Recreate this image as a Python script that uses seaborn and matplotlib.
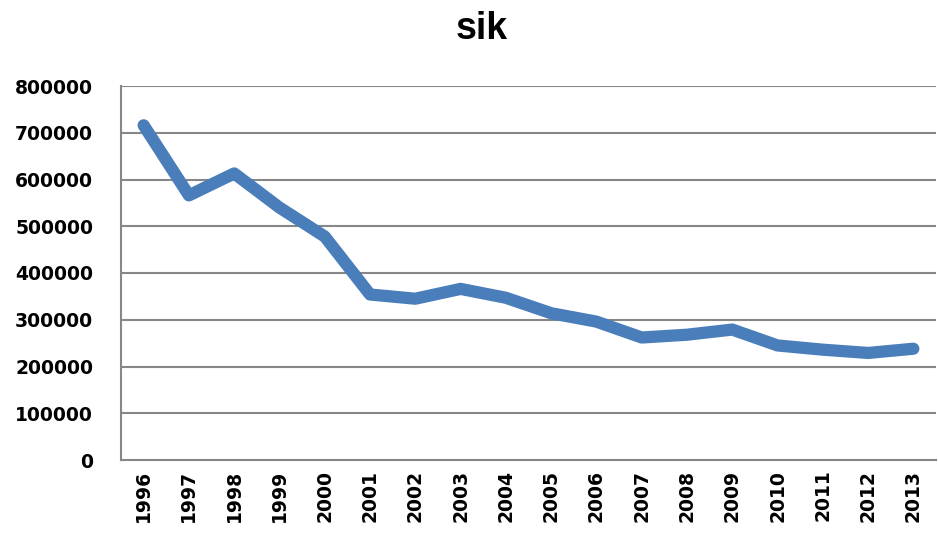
import numpy as np
import pandas as pd
import matplotlib
matplotlib.use("Agg")
import matplotlib.pyplot as plt
import seaborn as sns

# values
years = ["1996", "1997", "1998", "1999", "2000", "2001", "2002", "2003", "2004",
         "2005", "2006", "2007", "2008", "2009", "2010", "2011", "2012", "2013"]
values = [716000, 566000, 613000, 540000, 478000, 354000, 345000, 366000, 347000,
          314000, 296000, 262000, 268000, 279000, 245000, 236000, 229000, 238000]
y_ticks = [0, 100000, 200000, 300000, 400000, 500000, 600000, 700000, 800000]
title = "sik"

sns.set_style("white")
plt.rcParams["font.family"] = ["DejaVu Sans"]
plt.rcParams["text.color"] = "black"
plt.rcParams["xtick.labelcolor"] = "black"
plt.rcParams["ytick.labelcolor"] = "black"

df = pd.DataFrame({"year": years, "value": values})

fig = plt.figure(figsize=(9.38, 5.34), dpi=100)
ax = fig.add_axes([121 / 938, 74 / 534, 815 / 938, 374 / 534])

grid_col = "#878787"
for t in y_ticks[1:]:
    ax.axhline(t, color=grid_col, lw=1.5, zorder=0)

sns.lineplot(data=df, x="year", y="value", sort=False, ax=ax,
             color="#4A7EBB", lw=8.8, solid_capstyle="round",
             solid_joinstyle="round", zorder=3)

ax.set_xlim(-0.5, len(years) - 0.5)
ax.set_ylim(0, 800000)
ax.set_yticks(y_ticks)
ax.set_yticklabels([str(t) for t in y_ticks], fontsize=13.5, fontweight="bold")
ax.set_xticks(range(len(years)))
ax.set_xticklabels(years, rotation=90, fontsize=13.5, fontweight="bold")
ax.set_xticks(np.arange(-0.5, len(years)), minor=True)
ax.tick_params(axis="x", which="major", length=0, pad=7)
ax.tick_params(axis="x", which="minor", length=6, width=1.5, color=grid_col, direction="out")
ax.tick_params(axis="y", length=6, width=1.5, color=grid_col, direction="out", pad=14)
ax.set_xlabel("")
ax.set_ylabel("")

for s in ["top", "right"]:
    ax.spines[s].set_visible(False)
for s in ["left", "bottom"]:
    ax.spines[s].set_color(grid_col)
    ax.spines[s].set_linewidth(1.5)

fig.text(482 / 938, 1 - 39 / 534, title, ha="center", va="baseline",
         fontsize=27, fontweight="bold", family="Liberation Sans")

fig.savefig("out.png", dpi=100)
